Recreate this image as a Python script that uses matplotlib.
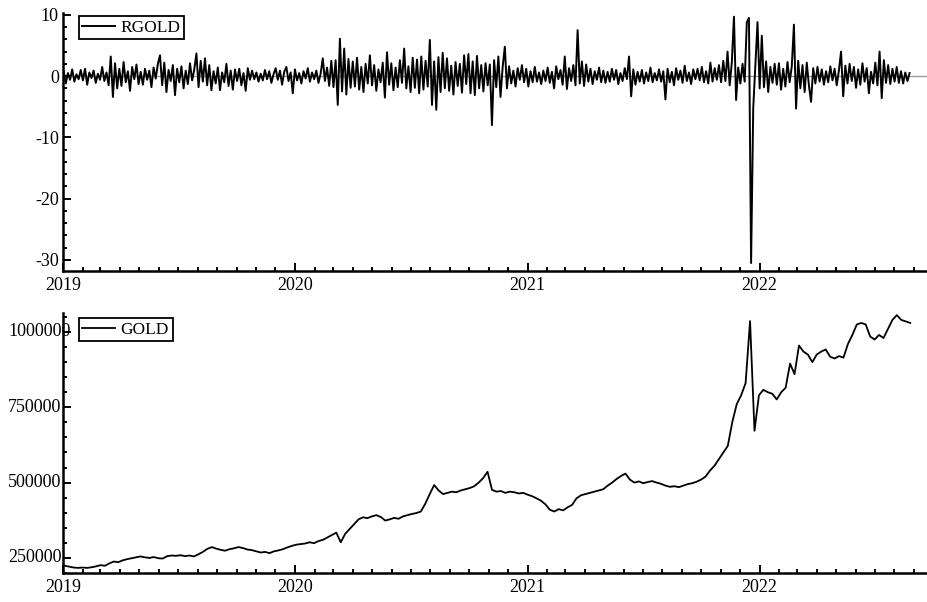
import numpy as np
import pandas as pd
import matplotlib
matplotlib.use('Agg')
import matplotlib.pyplot as plt
import matplotlib.dates as mdates
import matplotlib.transforms as mtransforms

# weekly GOLD level
gold_2019 = [224000, 221000, 218000, 217000, 218000, 217000, 219000, 222000, 226000, 224000,
             232000, 238000, 236000, 242000, 246000, 249000, 252000, 255000, 252000, 250000,
             253000, 249000, 248000, 256000, 258000, 257000, 259000, 256000, 258000, 255000,
             262000, 270000, 280000, 286000, 281000, 277000, 274000, 279000, 282000, 286000,
             283000, 278000, 276000, 272000, 268000, 270000, 266000, 272000, 275000, 279000,
             285000, 290000]
gold_2020 = [294000, 296000, 298000, 302000, 299000, 306000, 310000, 318000, 326000, 334000,
             302000, 330000, 346000, 362000, 378000, 385000, 382000, 388000, 392000, 386000,
             374000, 378000, 383000, 380000, 388000, 392000, 396000, 399000, 404000, 430000,
             462000, 492000, 474000, 462000, 466000, 470000, 468000, 474000, 478000, 482000,
             488000, 500000, 515000, 536000, 476000, 470000, 472000, 466000, 470000, 468000,
             464000, 466000]
gold_2021 = [460000, 455000, 448000, 440000, 428000, 410000, 404000, 412000, 408000, 418000,
             426000, 448000, 458000, 462000, 466000, 470000, 474000, 478000, 490000, 500000,
             512000, 522000, 530000, 510000, 500000, 504000, 498000, 502000, 505000, 500000,
             496000, 490000, 486000, 488000, 485000, 490000, 495000, 498000, 503000, 510000,
             520000, 540000, 556000, 578000, 600000, 622000, 700000, 760000, 790000, 830000,
             1036000, 672000, 790000]
gold_2022 = [808000, 800000, 795000, 776000, 800000, 815000, 895000, 860000, 955000, 935000,
             925000, 900000, 925000, 935000, 942000, 918000, 912000, 920000, 915000, 960000,
             990000, 1025000, 1030000, 1025000, 985000, 975000, 990000, 980000, 1010000, 1040000,
             1056000, 1040000, 1035000, 1030000]

# RGOLD returns, nine readings per month (upper panel)
rgold_2019 = [0.8, -1.2, 0.5, -0.6, 1.1, -0.9, 0.3, -0.5, 1.0,
              -0.7, 1.2, -1.4, 0.6, -0.3, 0.9, -1.1, 0.4, -0.6,
              1.5, -0.8, 0.6, -1.5, 3.2, -3.4, 2.1, -2.0, 1.2,
              -1.6, 2.3, -1.0, 0.8, -2.4, 1.5, -0.5, 1.9, -1.3,
              0.7, -1.4, 1.2, -0.6, 0.9, -1.8, 1.4, -0.4, 2.0,
              3.4, -1.5, 2.2, -2.6, 1.0, -0.8, 1.8, -3.1, 1.2,
              -1.0, 1.6, -2.0, 0.9, -1.3, 2.1, -0.7, 1.1, 3.7,
              -1.8, 2.5, -0.9, 2.9, -1.5, 1.8, -2.3, 0.8, -1.2,
              1.4, -2.3, 0.6, -1.0, 2.0, -1.6, 0.9, -2.2, 1.1,
              -0.8, 1.2, -1.5, 0.5, -2.4, 1.3, -0.6, 0.9, -0.5,
              0.6, -0.9, 0.4, -0.7, 1.0, -0.5, 0.8, -1.1, 0.3,
              1.3, -0.6, 0.9, -1.4, 0.7, 1.5, -0.8, 0.6, -2.8]
rgold_2020 = [1.1, -0.7, 0.5, -1.2, 0.8, -0.4, 1.3, -0.9, 0.6,
              -0.5, 0.9, -1.1, 0.4, 2.9, -0.8, 1.4, -1.6, 2.5,
              -1.8, 2.6, -4.7, 6.1, -2.5, 4.5, -3.0, 2.8, -1.9,
              2.4, -1.7, 3.0, -2.2, 1.5, -2.6, 2.0, -1.2, 3.4,
              -1.5, 1.8, -2.4, 1.1, -1.0, 2.2, -3.5, 3.9, -1.4,
              2.1, -2.3, 1.4, -1.8, 2.6, -1.1, 4.5, -2.0, 1.6,
              -2.6, 3.0, -1.9, 2.7, -2.8, 3.2, -2.2, 2.5, -1.7,
              5.9, -4.7, 2.4, -5.5, 3.1, -2.6, 3.8, -2.0, 2.9,
              -2.4, 1.7, -3.0, 2.3, -1.6, 2.0, -2.7, 3.4, -1.3,
              3.6, -2.8, 2.4, -3.1, 3.3, -2.0, 1.8, -2.5, 2.1,
              -1.5, 1.9, -8.0, 2.6, -1.8, 3.2, -3.4, 1.5, 4.8,
              -2.0, 1.6, -1.2, 0.9, -1.7, 1.3, -0.6, 1.8, -1.0]
rgold_2021 = [1.2, -1.7, 0.8, -1.0, 1.5, -0.9, 0.6, -1.3, 0.9,
              -0.8, 1.4, -1.1, 0.7, -2.0, 1.6, -0.5, 1.0, -1.4,
              3.2, -2.1, 1.3, -0.8, 1.8, -1.5, 7.5, -1.2, 2.4,
              -1.6, 1.9, -0.9, 1.2, -1.3, 0.8, -0.6, 1.4, -1.0,
              0.9, -1.1, 0.7, -0.9, 1.2, -0.6, 1.0, -1.3, 0.5,
              -0.8, 1.3, -0.5, 3.2, -3.3, 1.1, -1.4, 0.7, -0.9,
              1.0, -1.2, 0.6, -0.8, 1.4, -1.0, 0.5, -0.7, 1.1,
              -0.9, 0.8, -3.8, 1.2, -1.0, 0.7, -1.5, 1.3, -0.6,
              0.9, -1.1, 1.7, -0.8, 0.6, -1.3, 1.1, -0.5, 1.2,
              -0.7, 1.5, -1.0, 0.8, -1.2, 2.2, -0.9, 1.3, -0.6,
              1.8, -1.0, 2.5, -0.8, 4.0, -1.5, 2.2, 9.7, -3.9,
              1.4, -1.2, 2.0, -0.9, 8.8, 9.5, -30.5, -5.2, 1.8]
rgold_2022 = [8.8, -2.0, 6.6, -1.8, 2.4, -2.6, 1.5, -1.1, 2.0,
              -1.4, 2.1, -2.2, 1.2, -1.7, 2.3, -1.0, 1.6, 8.4,
              -5.3, 2.5, -2.0, 1.8, -2.6, 2.2, -1.5, -4.2, 1.3,
              -1.2, 1.5, -0.9, 1.1, -1.4, 0.8, -1.0, 1.6, -0.7,
              1.2, -1.5, 0.9, 4.0, -3.3, 1.7, -1.2, 2.0, -0.8,
              1.5, -1.9, 1.1, -1.4, 2.1, -0.9, 1.3, -2.8, 0.7,
              -1.2, 2.2, -1.5, 4.0, -3.6, 2.6, -1.1, 1.8, -1.3,
              1.2, -0.9, 1.5, -1.1, 0.8, -1.2, 0.6, -0.8, 0.5]

gold = gold_2019 + gold_2020 + gold_2021 + gold_2022
rgold = rgold_2019 + rgold_2020 + rgold_2021 + rgold_2022
gold_dates = pd.date_range('2019-01-04', '2022-08-26', periods=len(gold))
rgold_dates = pd.date_range('2019-01-02', '2022-08-25', periods=len(rgold))

plt.rcParams['font.family'] = ['Liberation Serif', 'DejaVu Serif']
plt.rcParams['axes.unicode_minus'] = False
FS = 13

W, H = 928, 602
fig = plt.figure(figsize=(W / 100, H / 100), dpi=100)
ax1 = fig.add_axes([63 / W, 1 - 271 / H, 865 / W, 258 / H])
ax2 = fig.add_axes([63 / W, 1 - 573 / H, 865 / W, 260 / H])

xmin, xmax = pd.Timestamp('2019-01-01'), pd.Timestamp('2022-09-23')


def style_axes(ax):
    for s in ['top', 'right']:
        ax.spines[s].set_visible(False)
    for s in ['left', 'bottom']:
        ax.spines[s].set_linewidth(1.8)
    ax.set_xlim(xmin, xmax)
    ax.xaxis.set_major_locator(mdates.YearLocator())
    ax.xaxis.set_major_formatter(mdates.DateFormatter('%Y'))
    ax.xaxis.set_minor_locator(mdates.MonthLocator())
    ax.tick_params(which='both', direction='in', width=1.4, labelsize=FS)
    ax.tick_params(which='major', length=6)
    ax.tick_params(which='minor', length=3)
    ax.tick_params(axis='x', pad=4)
    ax.tick_params(axis='y', pad=3)


# upper panel
ax1.axhline(0, color='#9a9a9a', lw=1.0, zorder=1)
ax1.plot(rgold_dates, rgold, color='black', lw=1.4, label='RGOLD', zorder=2)
style_axes(ax1)
ax1.set_ylim(-31.8, 10.3)
ax1.set_yticks([-30, -20, -10, 0, 10])
ax1.yaxis.set_minor_locator(matplotlib.ticker.MultipleLocator(2))
ax1.legend(loc='upper left', bbox_to_anchor=(16 / 865, 1 - 3 / 258), borderaxespad=0,
           fancybox=False, edgecolor='black', framealpha=1, fontsize=12.5,
           handlelength=1.9, handletextpad=0.3, borderpad=0.2).get_frame().set_linewidth(1.3)

# lower panel
ax2.plot(gold_dates, gold, color='black', lw=1.3, label='GOLD')
style_axes(ax2)
ax2.set_ylim(200000, 1063000)
gold_ticks = [250000, 500000, 750000, 1000000]
ax2.set_yticks(gold_ticks)
ax2.set_yticklabels([])
ax2.yaxis.set_minor_locator(matplotlib.ticker.MultipleLocator(50000))
trans = mtransforms.blended_transform_factory(fig.transFigure, ax2.transData)
for v in gold_ticks:
    ax2.text(8 / W, v, str(v), transform=trans, ha='left', va='center', fontsize=FS)
ax2.legend(loc='upper left', bbox_to_anchor=(16 / 865, 1 - 5 / 260), borderaxespad=0,
           fancybox=False, edgecolor='black', framealpha=1, fontsize=12.5,
           handlelength=1.9, handletextpad=0.3, borderpad=0.2).get_frame().set_linewidth(1.3)

fig.savefig('out.png', dpi=100, facecolor='white')
